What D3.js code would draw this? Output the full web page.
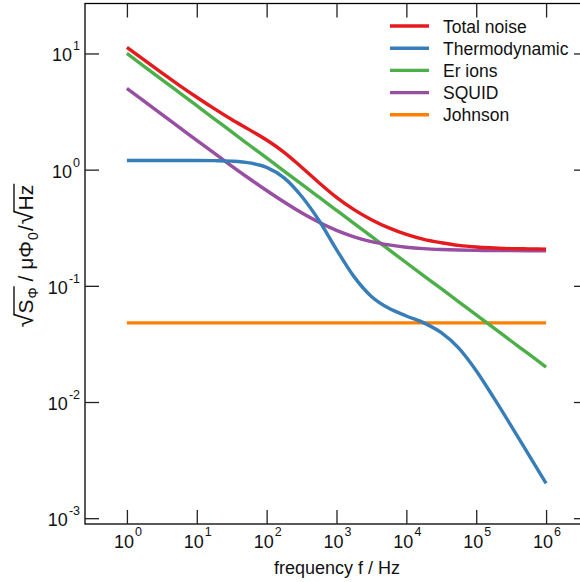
<!DOCTYPE html>
<html><head><meta charset="utf-8">
<script src="https://cdn.jsdelivr.net/npm/d3@7"></script>
<style>
body{margin:0;background:#fff}
svg{display:block;font-family:"Liberation Sans",Arial,Helvetica,sans-serif}
</style></head>
<body><svg id="c" width="580" height="582"></svg>
<script>
// ---- data ----
const freqs = [1, 1.778, 3.162, 5.623, 10, 17.78, 31.62, 56.23, 100, 177.8, 316.2, 562.3,
  1000, 1778, 3162, 5623, 1e4, 1.778e4, 3.162e4, 5.623e4, 1e5, 1.778e5, 3.162e5, 5.623e5, 1e6];
const totalNoise = [11.3, 8.75, 6.8, 5.32, 4.2, 3.35, 2.7, 2.21, 1.8, 1.41, 1.05, 0.772,
  0.578, 0.453, 0.371, 0.315, 0.277, 0.251, 0.235, 0.223, 0.216, 0.212, 0.209, 0.208, 0.207];
const thermodynamic = [1.2, 1.2, 1.2, 1.2, 1.199, 1.195, 1.183, 1.145, 1.047, 0.85, 0.59, 0.365,
  0.205, 0.12, 0.081, 0.064, 0.055, 0.048, 0.0395, 0.0291, 0.0186, 0.0109, 0.00624, 0.00353, 0.00199];
const erIons = [10, 7.72, 5.96, 4.6, 3.55, 2.74, 2.11, 1.63, 1.26, 0.972, 0.75, 0.579,
  0.447, 0.345, 0.266, 0.205, 0.158, 0.122, 0.0944, 0.0729, 0.0562, 0.0434, 0.0335, 0.0259, 0.02];
const squid = [5.0, 3.865, 2.985, 2.309, 1.786, 1.385, 1.074, 0.839, 0.661, 0.526, 0.425, 0.352,
  0.3, 0.264, 0.24, 0.225, 0.215, 0.209, 0.2055, 0.2033, 0.202, 0.2012, 0.2007, 0.2004, 0.2002];
const johnsonFreqs = [1, 1e6];
const johnson = [0.048, 0.048];

const seriesNames = ["Total noise", "Thermodynamic", "Er ions", "SQUID", "Johnson"];
const seriesColors = ["#e41a1c", "#377eb8", "#4daf4a", "#984ea3", "#ff7f00"];
const xTickExps = [0, 1, 2, 3, 4, 5, 6];
const yTickExps = [1, 0, -1, -2, -3];
const xTitle = "frequency f / Hz";

// ---- layout ----
const svg = d3.select("#c");
const L = 85, R = 588, T = 3.5, B = 524;
const x = d3.scaleLog().domain([Math.pow(10, -0.6), Math.pow(10, 6.6)]).range([L, R]);
const y = d3.scaleLog().domain([Math.pow(10, -3.05), Math.pow(10, 1.43)]).range([B, T]);

const series = [
  {f: freqs, v: totalNoise},
  {f: freqs, v: thermodynamic},
  {f: freqs, v: erIons},
  {f: freqs, v: squid},
  {f: johnsonFreqs, v: johnson}
];

// curves
const line = d3.line().x(d => x(d[0])).y(d => y(d[1])).curve(d3.curveMonotoneX);
const drawOrder = [4, 2, 3, 1, 0];
drawOrder.forEach(i => {
  const s = series[i];
  svg.append("path")
    .attr("d", line(s.f.map((f, k) => [f, s.v[k]])))
    .attr("fill", "none")
    .attr("stroke", seriesColors[i])
    .attr("stroke-width", 3.4)
    .attr("stroke-linecap", "butt")
    .attr("stroke-linejoin", "round");
});

// frame
svg.append("rect").attr("x", L).attr("y", T).attr("width", R - L).attr("height", B - T)
  .attr("fill", "none").attr("stroke", "#000").attr("stroke-width", 1.3);

// ticks via axes
const xVals = xTickExps.map(e => Math.pow(10, e));
const yVals = yTickExps.map(e => Math.pow(10, e));
function styleAxis(g) {
  g.select(".domain").remove();
  g.selectAll(".tick line").attr("stroke", "#222").attr("stroke-width", 1.3);
  g.selectAll(".tick text").remove();
}
svg.append("g").attr("transform", `translate(0,${B})`)
  .call(d3.axisBottom(x).tickValues(xVals).tickSize(-14).tickFormat(() => "")).call(styleAxis);
svg.append("g").attr("transform", `translate(0,${T})`)
  .call(d3.axisTop(x).tickValues(xVals).tickSize(-14).tickFormat(() => "")).call(styleAxis);
svg.append("g").attr("transform", `translate(${L},0)`)
  .call(d3.axisLeft(y).tickValues(yVals).tickSize(-14).tickFormat(() => "")).call(styleAxis);
svg.append("g").attr("transform", `translate(${R},0)`)
  .call(d3.axisRight(y).tickValues(yVals).tickSize(-14).tickFormat(() => "")).call(styleAxis);

// tick labels
xTickExps.forEach(e => {
  const t = svg.append("text").attr("x", x(Math.pow(10, e)) + 1).attr("y", 548)
    .attr("text-anchor", "middle").attr("font-size", 18).attr("fill", "#111");
  t.append("tspan").text("10");
  t.append("tspan").attr("font-size", 12.5).attr("dy", -12).attr("dx", 1).text(String(e));
});
yTickExps.forEach(e => {
  const t = svg.append("text").attr("x", 80).attr("y", y(Math.pow(10, e)) + 8)
    .attr("text-anchor", "end").attr("font-size", 18).attr("fill", "#111");
  t.append("tspan").text("10");
  t.append("tspan").attr("font-size", 12.5).attr("dy", -11).attr("dx", 1).text(e < 0 ? "-" + (-e) : String(e));
});

// x title
svg.append("text").attr("x", 337).attr("y", 574).attr("text-anchor", "middle")
  .attr("font-size", 18).attr("fill", "#111").text(xTitle);

// y title (rotated, with radicals and overlines)
const yt = svg.append("g").attr("transform", "translate(33,256) rotate(-90)");
const pieces = [
  {t: "\u221A", s: 25, dy: 0, o: false, gap: 0},
  {t: "S", s: 21, dy: 0, o: true, gap: 1},
  {t: "\u03A6", s: 14, dy: 5, o: true, gap: 0},
  {t: "\u00A0/ \u03BC\u03A6", s: 21, dy: 0, o: false, gap: 1},
  {t: "0", s: 14, dy: 5, o: false, gap: 1},
  {t: "/", s: 21, dy: 0, o: false, gap: 1},
  {t: "\u221A", s: 25, dy: 0, o: false, gap: 0},
  {t: "Hz", s: 21, dy: 0, o: true, gap: 0}
];
let cx = 0;
const placed = [];
pieces.forEach(p => {
  const el = yt.append("text").attr("x", cx).attr("y", p.dy).attr("font-size", p.s)
    .attr("fill", "#111").style("white-space", "pre").text(p.t);
  const w = el.node().getComputedTextLength();
  placed.push({el, x0: cx, x1: cx + w, o: p.o});
  cx += w + p.gap;
});
const shift = -cx / 2;
placed.forEach(p => p.el.attr("x", p.x0 + shift));
// overlines
let run = null;
placed.forEach((p, i) => {
  if (p.o) { if (!run) run = {a: p.x0, b: p.x1}; else run.b = p.x1; }
  if ((!p.o || i === placed.length - 1) && run) {
    yt.append("line").attr("x1", run.a + shift - 1).attr("x2", run.b + shift + 1)
      .attr("y1", -19).attr("y2", -19).attr("stroke", "#111").attr("stroke-width", 1.4);
    run = null;
  }
});

// legend
const lg = svg.append("g");
seriesNames.forEach((n, i) => {
  const ly = 26 + i * 22.2;
  lg.append("line").attr("x1", 390).attr("x2", 429).attr("y1", ly).attr("y2", ly)
    .attr("stroke", seriesColors[i]).attr("stroke-width", 3.4);
  lg.append("text").attr("x", 443).attr("y", ly + 6.5).attr("font-size", 17.5)
    .attr("fill", "#111").text(n);
});
</script></body></html>
